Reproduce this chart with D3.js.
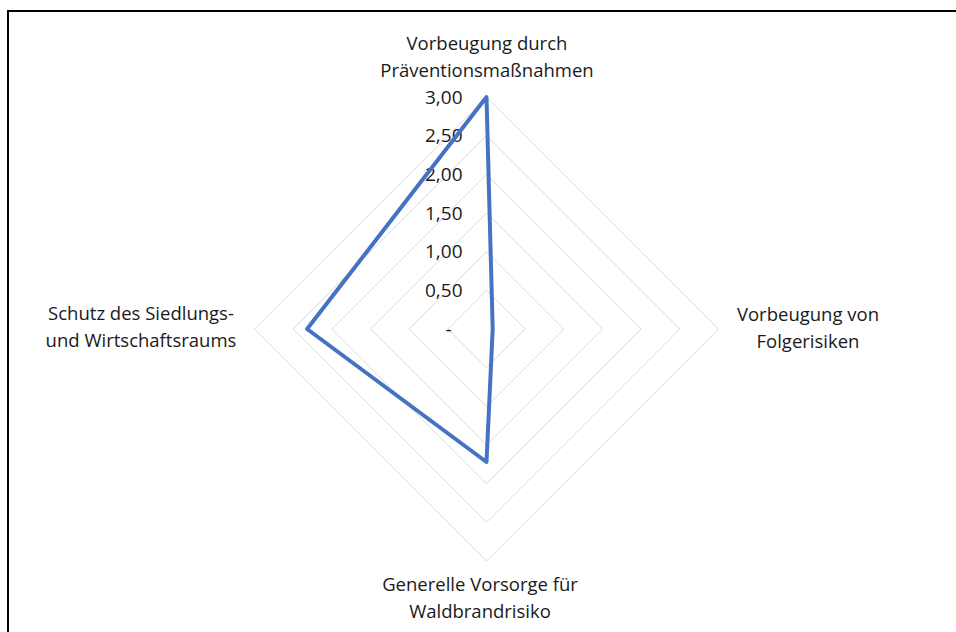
<!DOCTYPE html>
<html>
<head>
<meta charset="utf-8">
<script src="https://cdn.jsdelivr.net/npm/d3@7/dist/d3.min.js"></script>
<style>
  html, body { margin: 0; padding: 0; background: #fff; }
  svg { display: block; }
</style>
</head>
<body>
<svg id="chart" width="956" height="632"></svg>
<script>
// Radar chart: four fields of action, scored on a 0–3 scale
const categories = [
  ["Vorbeugung durch", "Präventionsmaßnahmen"],
  ["Vorbeugung von", "Folgerisiken"],
  ["Generelle Vorsorge für", "Waldbrandrisiko"],
  ["Schutz des Siedlungs-", "und Wirtschaftsraums"]
];
const values = [3.00, 0.08, 1.72, 2.32];
const tickValues = [0, 0.5, 1, 1.5, 2, 2.5, 3];
const tickLabels = ["-", "0,50", "1,00", "1,50", "2,00", "2,50", "3,00"];

const svg = d3.select("#chart");
const W = 956, H = 632;
const cx = 486.5, cy = 329, R = 232;
const font = "'Open Sans', 'Noto Sans', sans-serif";
const textColor = "#1a1a1a";

// Frame: top and left rules
svg.append("line").attr("x1", 7).attr("x2", W).attr("y1", 11).attr("y2", 11)
  .attr("stroke", "#000").attr("stroke-width", 2);
svg.append("line").attr("x1", 8).attr("x2", 8).attr("y1", 10).attr("y2", H)
  .attr("stroke", "#000").attr("stroke-width", 2);

const r = d3.scaleLinear().domain([0, 3]).range([0, R]);
const angle = d3.scaleLinear().domain([0, categories.length]).range([0, 2 * Math.PI]);
const pt = (i, v) => {
  const a = angle(i);
  return [cx + r(v) * Math.sin(a), cy - r(v) * Math.cos(a)];
};

const g = svg.append("g");

// Grid rings (diamonds)
tickValues.slice(1).forEach(t => {
  const pts = categories.map((_, i) => pt(i, t));
  g.append("path")
    .attr("d", d3.line().curve(d3.curveLinearClosed)(pts))
    .attr("fill", "none")
    .attr("stroke", "#d9d9d9")
    .attr("stroke-width", 1);
});

// Tick labels along the top axis
tickValues.forEach((t, k) => {
  const [, y] = pt(0, t);
  g.append("text")
    .attr("x", t === 0 ? cx - 38 : cx - 24)
    .attr("y", y)
    .attr("dy", "0.35em")
    .attr("text-anchor", t === 0 ? "middle" : "end")
    .attr("font-family", font)
    .attr("font-size", 19)
    .attr("fill", textColor)
    .text(tickLabels[k]);
});

// Data line
const dataPts = values.map((v, i) => pt(i, v));
g.append("path")
  .attr("d", d3.line().curve(d3.curveLinearClosed)(dataPts))
  .attr("fill", "none")
  .attr("stroke", "#4472c4")
  .attr("stroke-width", 4)
  .attr("stroke-linejoin", "round");

// Category labels
const labelPos = [
  { x: 487, y: 44 },
  { x: 808, y: 315 },
  { x: 480, y: 585 },
  { x: 141, y: 314 }
];
categories.forEach((lines, i) => {
  const p = labelPos[i];
  const t = g.append("text")
    .attr("x", p.x).attr("y", p.y)
    .attr("text-anchor", "middle")
    .attr("font-family", font)
    .attr("font-size", 18.5)
    .attr("fill", textColor);
  lines.forEach((s, j) => {
    t.append("tspan").attr("x", p.x).attr("dy", j === 0 ? "0.35em" : 27).text(s);
  });
});
</script>
</body>
</html>
